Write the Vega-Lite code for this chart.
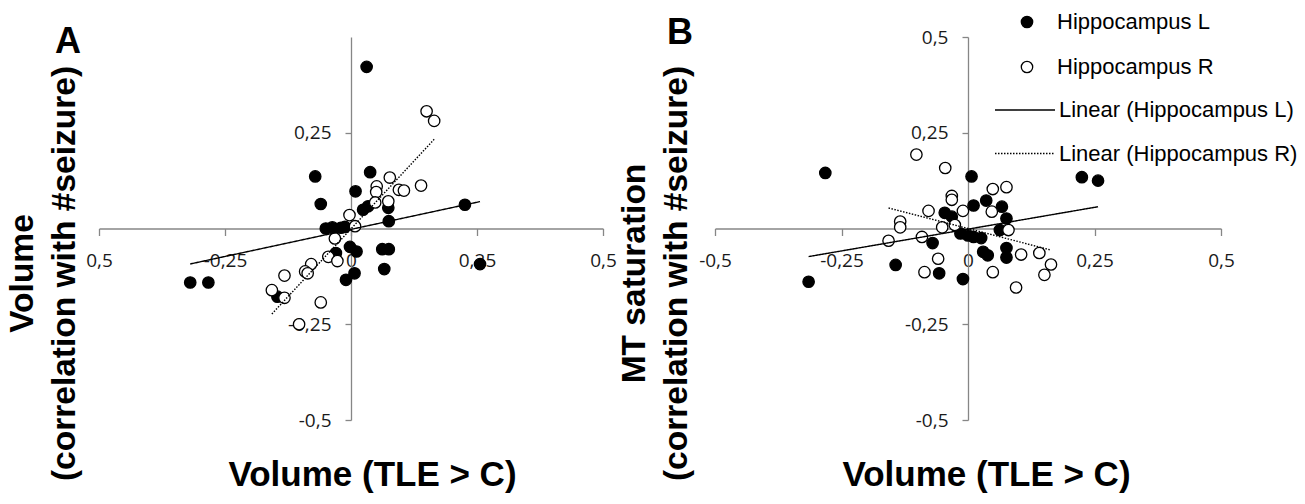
{
  "$schema": "https://vega.github.io/schema/vega-lite/v6.json",
  "padding": {"left": 5, "top": 11, "right": 5, "bottom": 5},
  "background": "white",
  "spacing": 0,
  "config": {
    "view": {"stroke": null},
    "axis": {
      "grid": false,
      "domainColor": "#868686",
      "tickColor": "#868686",
      "domainWidth": 1.3,
      "tickWidth": 1.3,
      "labelFont": "Open Sans",
      "labelFontSize": 19,
      "labelColor": "#1a1a1a",
      "labelFlush": false,
      "labelOverlap": false,
      "titleFont": "Liberation Sans",
      "titleFontWeight": "bold",
      "titleColor": "black"
    },
    "title": {"font": "Liberation Sans", "fontSize": 36, "fontWeight": "bold", "color": "black", "anchor": "start", "frame": "group"}
  },
  "datasets": {
    "A": [
      {"series": "Hippocampus L", "trend": "Linear (Hippocampus L)", "x": 0.031, "y": 0.422},
      {"series": "Hippocampus L", "trend": "Linear (Hippocampus L)", "x": -0.071, "y": 0.136},
      {"series": "Hippocampus L", "trend": "Linear (Hippocampus L)", "x": -0.060, "y": 0.064},
      {"series": "Hippocampus L", "trend": "Linear (Hippocampus L)", "x": 0.038, "y": 0.147},
      {"series": "Hippocampus L", "trend": "Linear (Hippocampus L)", "x": 0.009, "y": 0.097},
      {"series": "Hippocampus L", "trend": "Linear (Hippocampus L)", "x": 0.024, "y": 0.049},
      {"series": "Hippocampus L", "trend": "Linear (Hippocampus L)", "x": 0.034, "y": 0.058},
      {"series": "Hippocampus L", "trend": "Linear (Hippocampus L)", "x": 0.074, "y": 0.054},
      {"series": "Hippocampus L", "trend": "Linear (Hippocampus L)", "x": 0.075, "y": 0.019},
      {"series": "Hippocampus L", "trend": "Linear (Hippocampus L)", "x": 0.226, "y": 0.062},
      {"series": "Hippocampus L", "trend": "Linear (Hippocampus L)", "x": -0.050, "y": 0.0},
      {"series": "Hippocampus L", "trend": "Linear (Hippocampus L)", "x": -0.037, "y": 0.003},
      {"series": "Hippocampus L", "trend": "Linear (Hippocampus L)", "x": -0.020, "y": 0.002},
      {"series": "Hippocampus L", "trend": "Linear (Hippocampus L)", "x": -0.012, "y": 0.004},
      {"series": "Hippocampus L", "trend": "Linear (Hippocampus L)", "x": -0.002, "y": -0.048},
      {"series": "Hippocampus L", "trend": "Linear (Hippocampus L)", "x": 0.011, "y": -0.060},
      {"series": "Hippocampus L", "trend": "Linear (Hippocampus L)", "x": -0.030, "y": -0.064},
      {"series": "Hippocampus L", "trend": "Linear (Hippocampus L)", "x": 0.062, "y": -0.054},
      {"series": "Hippocampus L", "trend": "Linear (Hippocampus L)", "x": 0.075, "y": -0.054},
      {"series": "Hippocampus L", "trend": "Linear (Hippocampus L)", "x": 0.066, "y": -0.106},
      {"series": "Hippocampus L", "trend": "Linear (Hippocampus L)", "x": 0.007, "y": -0.117},
      {"series": "Hippocampus L", "trend": "Linear (Hippocampus L)", "x": -0.010, "y": -0.134},
      {"series": "Hippocampus L", "trend": "Linear (Hippocampus L)", "x": 0.256, "y": -0.093},
      {"series": "Hippocampus L", "trend": "Linear (Hippocampus L)", "x": -0.319, "y": -0.141},
      {"series": "Hippocampus L", "trend": "Linear (Hippocampus L)", "x": -0.283, "y": -0.141},
      {"series": "Hippocampus L", "trend": "Linear (Hippocampus L)", "x": -0.146, "y": -0.178},
      {"series": "Hippocampus R", "trend": "Linear (Hippocampus R)", "x": 0.150, "y": 0.306},
      {"series": "Hippocampus R", "trend": "Linear (Hippocampus R)", "x": 0.165, "y": 0.281},
      {"series": "Hippocampus R", "trend": "Linear (Hippocampus R)", "x": 0.077, "y": 0.133},
      {"series": "Hippocampus R", "trend": "Linear (Hippocampus R)", "x": 0.051, "y": 0.110},
      {"series": "Hippocampus R", "trend": "Linear (Hippocampus R)", "x": 0.050, "y": 0.095},
      {"series": "Hippocampus R", "trend": "Linear (Hippocampus R)", "x": 0.095, "y": 0.101},
      {"series": "Hippocampus R", "trend": "Linear (Hippocampus R)", "x": 0.105, "y": 0.099},
      {"series": "Hippocampus R", "trend": "Linear (Hippocampus R)", "x": 0.139, "y": 0.112},
      {"series": "Hippocampus R", "trend": "Linear (Hippocampus R)", "x": 0.074, "y": 0.071},
      {"series": "Hippocampus R", "trend": "Linear (Hippocampus R)", "x": 0.048, "y": 0.068},
      {"series": "Hippocampus R", "trend": "Linear (Hippocampus R)", "x": -0.003, "y": 0.035},
      {"series": "Hippocampus R", "trend": "Linear (Hippocampus R)", "x": 0.008, "y": 0.006},
      {"series": "Hippocampus R", "trend": "Linear (Hippocampus R)", "x": -0.032, "y": -0.026},
      {"series": "Hippocampus R", "trend": "Linear (Hippocampus R)", "x": -0.045, "y": -0.074},
      {"series": "Hippocampus R", "trend": "Linear (Hippocampus R)", "x": -0.027, "y": -0.085},
      {"series": "Hippocampus R", "trend": "Linear (Hippocampus R)", "x": -0.079, "y": -0.093},
      {"series": "Hippocampus R", "trend": "Linear (Hippocampus R)", "x": -0.091, "y": -0.112},
      {"series": "Hippocampus R", "trend": "Linear (Hippocampus R)", "x": -0.086, "y": -0.117},
      {"series": "Hippocampus R", "trend": "Linear (Hippocampus R)", "x": -0.132, "y": -0.123},
      {"series": "Hippocampus R", "trend": "Linear (Hippocampus R)", "x": -0.157, "y": -0.161},
      {"series": "Hippocampus R", "trend": "Linear (Hippocampus R)", "x": -0.132, "y": -0.181},
      {"series": "Hippocampus R", "trend": "Linear (Hippocampus R)", "x": -0.060, "y": -0.193},
      {"series": "Hippocampus R", "trend": "Linear (Hippocampus R)", "x": -0.103, "y": -0.250}
    ],
    "B": [
      {"series": "Hippocampus L", "trend": "Linear (Hippocampus L)", "x": -0.282, "y": 0.145},
      {"series": "Hippocampus L", "trend": "Linear (Hippocampus L)", "x": 0.007, "y": 0.136},
      {"series": "Hippocampus L", "trend": "Linear (Hippocampus L)", "x": 0.225, "y": 0.134},
      {"series": "Hippocampus L", "trend": "Linear (Hippocampus L)", "x": 0.257, "y": 0.125},
      {"series": "Hippocampus L", "trend": "Linear (Hippocampus L)", "x": 0.011, "y": 0.060},
      {"series": "Hippocampus L", "trend": "Linear (Hippocampus L)", "x": 0.036, "y": 0.073},
      {"series": "Hippocampus L", "trend": "Linear (Hippocampus L)", "x": 0.067, "y": 0.057},
      {"series": "Hippocampus L", "trend": "Linear (Hippocampus L)", "x": 0.076, "y": 0.026},
      {"series": "Hippocampus L", "trend": "Linear (Hippocampus L)", "x": -0.046, "y": 0.041},
      {"series": "Hippocampus L", "trend": "Linear (Hippocampus L)", "x": -0.032, "y": 0.031},
      {"series": "Hippocampus L", "trend": "Linear (Hippocampus L)", "x": 0.063, "y": -0.004},
      {"series": "Hippocampus L", "trend": "Linear (Hippocampus L)", "x": -0.015, "y": -0.013},
      {"series": "Hippocampus L", "trend": "Linear (Hippocampus L)", "x": 0.0, "y": -0.018},
      {"series": "Hippocampus L", "trend": "Linear (Hippocampus L)", "x": 0.011, "y": -0.022},
      {"series": "Hippocampus L", "trend": "Linear (Hippocampus L)", "x": 0.026, "y": -0.025},
      {"series": "Hippocampus L", "trend": "Linear (Hippocampus L)", "x": -0.070, "y": -0.038},
      {"series": "Hippocampus L", "trend": "Linear (Hippocampus L)", "x": 0.030, "y": -0.061},
      {"series": "Hippocampus L", "trend": "Linear (Hippocampus L)", "x": 0.039, "y": -0.070},
      {"series": "Hippocampus L", "trend": "Linear (Hippocampus L)", "x": 0.076, "y": -0.051},
      {"series": "Hippocampus L", "trend": "Linear (Hippocampus L)", "x": 0.076, "y": -0.076},
      {"series": "Hippocampus L", "trend": "Linear (Hippocampus L)", "x": -0.143, "y": -0.095},
      {"series": "Hippocampus L", "trend": "Linear (Hippocampus L)", "x": -0.057, "y": -0.117},
      {"series": "Hippocampus L", "trend": "Linear (Hippocampus L)", "x": -0.010, "y": -0.132},
      {"series": "Hippocampus L", "trend": "Linear (Hippocampus L)", "x": -0.315, "y": -0.139},
      {"series": "Hippocampus R", "trend": "Linear (Hippocampus R)", "x": -0.102, "y": 0.193},
      {"series": "Hippocampus R", "trend": "Linear (Hippocampus R)", "x": -0.045, "y": 0.158},
      {"series": "Hippocampus R", "trend": "Linear (Hippocampus R)", "x": 0.049, "y": 0.103},
      {"series": "Hippocampus R", "trend": "Linear (Hippocampus R)", "x": 0.076, "y": 0.108},
      {"series": "Hippocampus R", "trend": "Linear (Hippocampus R)", "x": -0.032, "y": 0.085},
      {"series": "Hippocampus R", "trend": "Linear (Hippocampus R)", "x": -0.032, "y": 0.075},
      {"series": "Hippocampus R", "trend": "Linear (Hippocampus R)", "x": -0.078, "y": 0.046},
      {"series": "Hippocampus R", "trend": "Linear (Hippocampus R)", "x": -0.010, "y": 0.046},
      {"series": "Hippocampus R", "trend": "Linear (Hippocampus R)", "x": 0.047, "y": 0.044},
      {"series": "Hippocampus R", "trend": "Linear (Hippocampus R)", "x": -0.134, "y": 0.018},
      {"series": "Hippocampus R", "trend": "Linear (Hippocampus R)", "x": -0.134, "y": 0.003},
      {"series": "Hippocampus R", "trend": "Linear (Hippocampus R)", "x": -0.051, "y": 0.003},
      {"series": "Hippocampus R", "trend": "Linear (Hippocampus R)", "x": -0.026, "y": 0.009},
      {"series": "Hippocampus R", "trend": "Linear (Hippocampus R)", "x": 0.080, "y": -0.004},
      {"series": "Hippocampus R", "trend": "Linear (Hippocampus R)", "x": -0.157, "y": -0.032},
      {"series": "Hippocampus R", "trend": "Linear (Hippocampus R)", "x": -0.091, "y": -0.022},
      {"series": "Hippocampus R", "trend": "Linear (Hippocampus R)", "x": -0.059, "y": -0.079},
      {"series": "Hippocampus R", "trend": "Linear (Hippocampus R)", "x": -0.086, "y": -0.114},
      {"series": "Hippocampus R", "trend": "Linear (Hippocampus R)", "x": 0.049, "y": -0.114},
      {"series": "Hippocampus R", "trend": "Linear (Hippocampus R)", "x": 0.105, "y": -0.068},
      {"series": "Hippocampus R", "trend": "Linear (Hippocampus R)", "x": 0.141, "y": -0.064},
      {"series": "Hippocampus R", "trend": "Linear (Hippocampus R)", "x": 0.164, "y": -0.094},
      {"series": "Hippocampus R", "trend": "Linear (Hippocampus R)", "x": 0.151, "y": -0.121},
      {"series": "Hippocampus R", "trend": "Linear (Hippocampus R)", "x": 0.095, "y": -0.154}
    ]
  },
  "resolve": {"scale": {"fill": "shared", "strokeDash": "shared"}},
  "hconcat": [
    {
      "width": 504,
      "height": 383,
      "data": {"name": "A"},
      "title": {"text": "A", "dx": -44, "dy": 28},
      "layer": [
        {
          "mark": {"type": "point", "filled": true, "shape": "circle", "size": 130, "stroke": "black", "strokeWidth": 1.3, "opacity": 1},
          "encoding": {
            "x": {"field": "x", "type": "quantitative", "scale": {"domain": [-0.5, 0.5], "nice": false, "zero": false},
              "axis": {"values": [-0.5, -0.25, 0, 0.25, 0.5], "offset": -191.5, "tickSize": 7, "labelPadding": 16,
                "labelExpr": "datum.value == -0.5 ? '0,5' : replace(toString(datum.value), '.', ',')",
                "title": "Volume (TLE > C)", "titleFontSize": 35, "titleX": 273, "titleY": 246, "titleAlign": "center", "titleBaseline": "middle"}},
            "y": {"field": "y", "type": "quantitative", "scale": {"domain": [-0.5, 0.5], "nice": false, "zero": false},
              "axis": {"values": [-0.5, -0.25, 0.25], "offset": -252, "tickSize": 6, "labelPadding": 14,
                "labelExpr": "replace(toString(datum.value), '.', ',')",
                "title": ["Volume", "(correlation with #seizure)"], "titleFontSize": 33.5, "titleAngle": -90, "titleX": -329, "titleY": 236,
                "titleAlign": "center", "titleBaseline": "middle", "titleLineHeight": 42}},
            "fill": {"field": "series", "type": "nominal", "scale": {"domain": ["Hippocampus L", "Hippocampus R"], "range": ["black", "white"]},
              "legend": {"orient": "none", "legendX": 917, "legendY": -26, "title": null, "symbolStrokeColor": "black", "symbolStrokeWidth": 1.3,
                "symbolSize": 130, "symbolOpacity": 1, "labelFont": "Liberation Sans", "labelFontSize": 22, "labelColor": "black", "labelOffset": 19, "rowPadding": 23, "labelLimit": 400}}
          }
        },
        {
          "transform": [{"regression": "y", "on": "x", "groupby": ["trend"]}],
          "mark": {"type": "line", "color": "black", "strokeWidth": 1.4},
          "encoding": {
            "x": {"field": "x", "type": "quantitative"},
            "y": {"field": "y", "type": "quantitative"},
            "strokeDash": {"field": "trend", "type": "nominal", "scale": {"domain": ["Linear (Hippocampus L)", "Linear (Hippocampus R)"], "range": [[1, 0], [1.5, 1.5]]},
              "legend": {"orient": "none", "legendX": 895, "legendY": 42, "title": null, "symbolType": "stroke", "symbolSize": 3600, "symbolStrokeColor": "black", "symbolStrokeWidth": 1.4,
                "labelFont": "Liberation Sans", "labelFontSize": 22, "labelColor": "black", "labelOffset": 3, "rowPadding": 1.5, "labelLimit": 400}}
          }
        }
      ]
    },
    {
      "width": 506,
      "height": 383,
      "data": {"name": "B"},
      "title": {"text": "B", "dx": -48, "dy": 28},
      "layer": [
        {
          "mark": {"type": "point", "filled": true, "shape": "circle", "size": 130, "stroke": "black", "strokeWidth": 1.3, "opacity": 1},
          "encoding": {
            "x": {"field": "x", "type": "quantitative", "scale": {"domain": [-0.5, 0.5], "nice": false, "zero": false},
              "axis": {"values": [-0.5, -0.25, 0, 0.25, 0.5], "offset": -191.5, "tickSize": 7, "labelPadding": 16,
                "labelExpr": "replace(toString(datum.value), '.', ',')",
                "title": "Volume (TLE > C)", "titleFontSize": 35, "titleX": 271, "titleY": 246, "titleAlign": "center", "titleBaseline": "middle"}},
            "y": {"field": "y", "type": "quantitative", "scale": {"domain": [-0.5, 0.5], "nice": false, "zero": false},
              "axis": {"values": [-0.5, -0.25, 0.25, 0.5], "offset": -253, "tickSize": 6, "labelPadding": 14,
                "labelExpr": "replace(toString(datum.value), '.', ',')",
                "title": ["MT saturation", "(correlation with #seizure)"], "titleFontSize": 33.5, "titleAngle": -90, "titleX": -334, "titleY": 236,
                "titleAlign": "center", "titleBaseline": "middle", "titleLineHeight": 42}},
            "fill": {"field": "series", "type": "nominal"}
          }
        },
        {
          "transform": [{"regression": "y", "on": "x", "groupby": ["trend"]}],
          "mark": {"type": "line", "color": "black", "strokeWidth": 1.4},
          "encoding": {
            "x": {"field": "x", "type": "quantitative"},
            "y": {"field": "y", "type": "quantitative"},
            "strokeDash": {"field": "trend", "type": "nominal"}
          }
        }
      ]
    }
  ]
}
